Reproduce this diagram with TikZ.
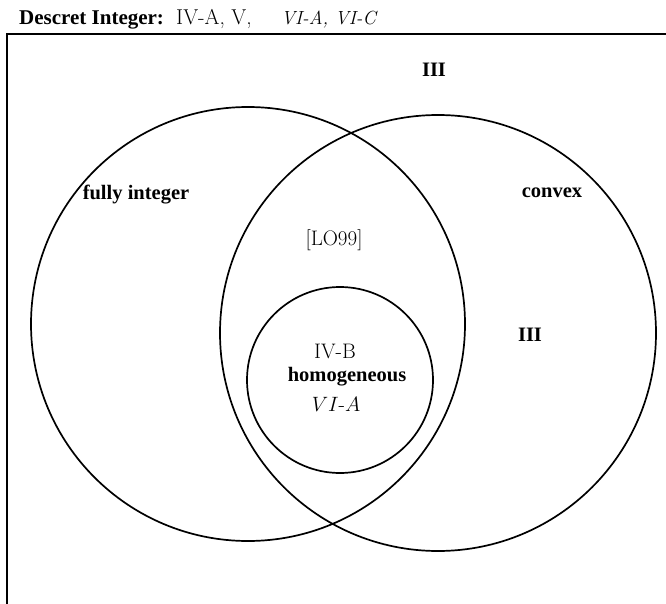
\documentclass[tikz,border=0pt]{standalone}
\usepackage{fontspec}
\newfontfamily\tmsfont{Liberation Serif}
\usetikzlibrary{positioning}
\tikzset{
  setc/.style={circle, draw=black, line width=1.7pt, inner sep=0pt},
  blab/.style={font=\tmsfont\bfseries\fontsize{20.5}{23}\selectfont, inner sep=0pt},
  rlab/.style={font=\fontsize{21}{24}\selectfont, inner sep=0pt},
  tlab/.style={anchor=base west, inner sep=0pt},
  frm/.style={line width=2.3pt},
}

\begin{document}
\begin{tikzpicture}[x=1pt, y=-1pt]
  \useasboundingbox (0,0) rectangle (666,604);
  % frame
  \coordinate (tr) at (666,34);
  \coordinate (tl) at (7,34);
  \coordinate (bl) at (7,604);
  \draw[frm] (tr) -- (tl) -- (bl);
  % heading
  \node[tlab, font=\tmsfont\bfseries\fontsize{21}{24}\selectfont] (hd) at (19,25) {Descret Integer:};
  \node[tlab, font=\fontsize{21.5}{24}\selectfont] (hdr) at (176,25) {IV-A,\ V,};
  \node[tlab, font=\fontsize{19}{24}\selectfont\itshape] (hdi) at (281,25) {VI-A, VI-C};
  % sets
  \node[setc, minimum size=434pt] (fully) at (248,324) {};
  \node[setc, minimum size=436pt] (convex) at (438,333) {};
  \node[setc, minimum size=186pt] (homog) at (340,380) {};
  % labels
  \node[blab] (out) at (434,70) {III};
  \node[blab] (lfully) at (136,195) {fully integer};
  \node[blab] (lconvex) at (552,193) {convex};
  \node[rlab] (lo) at (334,240) {[LO99]};
  \node[blab] (cvx) at (530,335) {III};
  \node[rlab] (ivb) at (335,351) {IV-B};
  \node[blab] (lhomog) at (347,377) {homogeneous};
  \node[rlab] (via) at (336,404) {$VI$-$A$};
\end{tikzpicture}
\end{document}
